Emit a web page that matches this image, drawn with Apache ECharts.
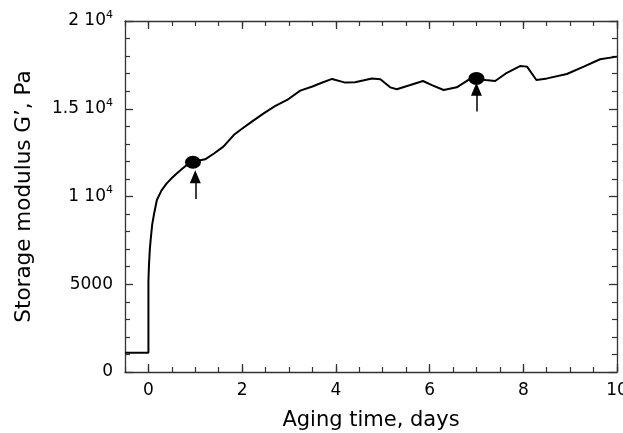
<!DOCTYPE html>
<html><head><meta charset="utf-8">
<script src="https://cdn.jsdelivr.net/npm/echarts@6/dist/echarts.min.js"></script>
<style>html,body{margin:0;padding:0;background:#fff}#c{width:623px;height:433px}</style>
</head><body><div id="c"></div>
<script>
var timeDays = [-0.5, 0, 0, 0.01, 0.03, 0.05, 0.08, 0.12, 0.18, 0.28, 0.39, 0.5, 0.61, 0.72, 0.82, 0.95, 1.08, 1.21, 1.4, 1.6, 1.82, 1.96, 2.2, 2.46, 2.7, 2.96, 3.24, 3.5, 3.67, 3.92, 4.2, 4.41, 4.6, 4.77, 4.95, 5.16, 5.3, 5.59, 5.86, 6.05, 6.3, 6.58, 6.83, 6.99, 7.19, 7.4, 7.65, 7.94, 8.08, 8.28, 8.51, 8.93, 9.29, 9.64, 10];
var modulus = [1100, 1100, 5200, 6000, 7000, 7600, 8400, 9000, 9800, 10350, 10750, 11050, 11320, 11580, 11800, 11950, 12050, 12120, 12450, 12840, 13500, 13790, 14250, 14740, 15150, 15500, 16030, 16270, 16450, 16700, 16490, 16510, 16620, 16720, 16680, 16220, 16110, 16350, 16580, 16350, 16070, 16220, 16640, 16730, 16640, 16580, 17050, 17440, 17400, 16640, 16730, 16980, 17400, 17820, 17970];
var markerX = [0.95, 7.0];
var markerY = [11950, 16730];
var arrowX = [1, 7];
var arrowTail = [9860, 14840];
var arrowTip = [11130, 16110];
var xMajorTicks = [0, 2, 4, 6, 8, 10];
var yTickLabels = {0: '0', 5000: '5000', 10000: '{n|1 10}{s|4}', 15000: '{n|1.5 10}{s|4}', 20000: '{n|2 10}{s|4}'};

var font = 'DejaVu Sans';
var frameColor = '#333';
var lineData = timeDays.map(function (t, i) { return [t, modulus[i]]; });
var markers = markerX.map(function (t, i) { return [t, markerY[i]]; });
var arrowLines = arrowX.map(function (t, i) {
  return [{coord: [t, arrowTail[i]]}, {coord: [t, arrowTip[i]]}];
});

function xMinorAxis(show, pos) {
  return {
    type: 'value', min: -0.5, max: 10, interval: 0.5, position: pos,
    axisLine: {onZero: false, lineStyle: {color: frameColor, width: 1.3}},
    axisTick: {inside: true, length: 5, lineStyle: {color: frameColor, width: 1.2}},
    splitLine: {show: false},
    axisLabel: show ? {fontFamily: font, fontSize: 17, color: '#000', margin: 10,
      formatter: function (v) { return xMajorTicks.indexOf(v) >= 0 ? String(v) : ''; }} : {show: false},
    name: show ? 'Aging time, days' : '', nameLocation: 'middle', nameGap: 38,
    nameTextStyle: {fontFamily: font, fontSize: 21, color: '#000'}
  };
}
function xMajorAxis(pos) {
  return {
    type: 'value', min: -0.5, max: 10, position: pos,
    axisLine: {show: false, onZero: false},
    axisTick: {inside: true, length: 8, customValues: xMajorTicks, lineStyle: {color: frameColor, width: 1.3}},
    axisLabel: {show: false}, splitLine: {show: false}
  };
}
function yAxisCfg(show, pos) {
  return {
    type: 'value', min: 0, max: 20000, interval: 5000, position: pos,
    axisLine: {onZero: false, lineStyle: {color: frameColor, width: 1.3}},
    axisTick: {inside: true, length: 8, lineStyle: {color: frameColor, width: 1.3}},
    minorTick: {show: true, splitNumber: 5, length: 5, lineStyle: {color: frameColor, width: 1.2}},
    splitLine: {show: false},
    axisLabel: show ? {fontFamily: font, fontSize: 17, color: '#000', margin: 12,
      formatter: function (v) { return yTickLabels[v]; },
      rich: {n: {fontFamily: font, fontSize: 17, color: '#000'},
             s: {fontFamily: font, fontSize: 11, color: '#000', padding: [0, 0, 12, 0]}}} : {show: false},
    name: show ? 'Storage modulus G\u2019, Pa' : '', nameLocation: 'middle', nameGap: 90,
    nameTextStyle: {fontFamily: font, fontSize: 21.5, color: '#000'}
  };
}

var chart = echarts.init(document.getElementById('c'));
chart.setOption({
  animation: false,
  grid: {left: 125, right: 6, top: 21, bottom: 61, containLabel: false, outerBoundsMode: 'none'},
  xAxis: [xMinorAxis(true, 'bottom'), xMinorAxis(false, 'top'), xMajorAxis('bottom'), xMajorAxis('top')],
  yAxis: [yAxisCfg(true, 'left'), yAxisCfg(false, 'right')],
  series: [
    {type: 'line', data: lineData, showSymbol: false, symbol: 'none',
     lineStyle: {color: '#000', width: 2}, z: 3,
     markLine: {silent: true, symbol: ['none', 'triangle'], symbolSize: [11, 13],
       label: {show: false}, lineStyle: {color: '#000', width: 1.5, type: 'solid'},
       data: arrowLines}},
    {type: 'scatter', data: markers, symbol: 'circle', symbolSize: [16, 13],
     itemStyle: {color: '#000', opacity: 1}, z: 4}
  ]
});
</script></body></html>
